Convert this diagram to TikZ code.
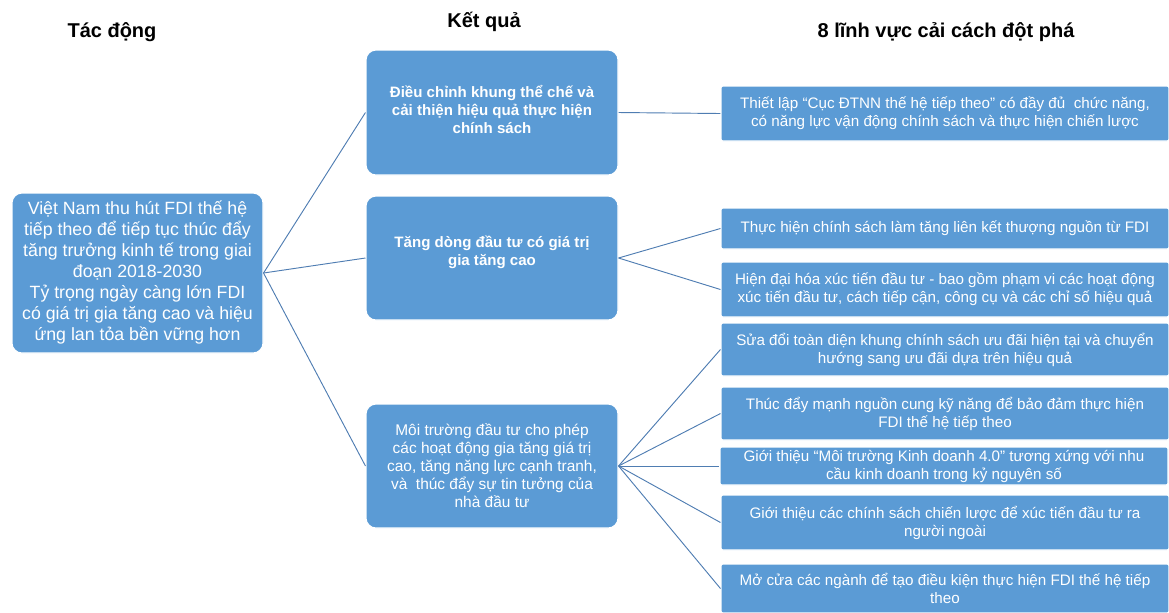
\documentclass[tikz,border=0pt]{standalone}
\usepackage{fontspec}
\setmainfont{Liberation Sans}
\definecolor{boxblue}{HTML}{5B9BD5}
\definecolor{linkblue}{HTML}{4F7DB2}
\begin{document}
\begin{tikzpicture}[x=0.75pt,y=-0.75pt,
  box/.style={draw=white, line width=0.8pt, fill=boxblue, text=white,
    align=center, inner sep=0pt},
  srcbox/.style={box, rounded corners=7.5pt, minimum width=188.25pt,
    minimum height=120pt, font=\fontsize{13.3pt}{15.75pt}\selectfont},
  midbox/.style={box, rounded corners=7.5pt, minimum width=189pt,
    font=\fontsize{11.6pt}{13.5pt}\selectfont},
  midbold/.style={midbox, font=\fontsize{11.3pt}{13.5pt}\selectfont\bfseries},
  areabox/.style={box, rounded corners=1.5pt, minimum width=336pt,
    font=\fontsize{11.4pt}{13.5pt}\selectfont},
  heading/.style={font=\fontsize{15pt}{17pt}\selectfont\bfseries, inner sep=0pt},
  link/.style={draw=linkblue, line width=0.7pt}]

\useasboundingbox (0,0) rectangle (1169,612);

% column headings
\node[heading] (h1) at (112,32) {Tác động};
\node[heading] (h2) at (484,22) {Kết quả};
\node[heading] (h3) at (946,32) {8 lĩnh vực cải cách đột phá};

% impact
\node[srcbox] (src) at (137.5,273) {Việt Nam thu hút FDI thế hệ\\
  tiếp theo để tiếp tục thúc đẩy\\ tăng trưởng kinh tế trong giai\\
  đoạn 2018-2030\\ Tỷ trọng ngày càng lớn FDI\\
  có giá trị gia tăng cao và hiệu\\ ứng lan tỏa bền vững hơn};

% results
\node[midbold, minimum height=93.75pt, text depth=5pt]
  (m1) at (492,112.5) {Điều chỉnh khung thể chế và\\ cải thiện hiệu quả thực hiện\\ chính sách};
\node[midbold, minimum height=93pt, text depth=10.5pt]
  (m2) at (492,258) {Tăng dòng đầu tư có giá trị\\ gia tăng cao};
\node[midbox, minimum height=93pt] (m3) at (492,466)
  {Môi trường đầu tư cho phép\\ các hoạt động gia tăng giá trị\\
   cao, tăng năng lực cạnh tranh,\\ và~ thúc đẩy sự tin tưởng của\\ nhà đầu tư};

% reform areas
\node[areabox, minimum height=41.25pt] (r1) at (945,113.5)
  {Thiết lập “Cục ĐTNN thế hệ tiếp theo” có đầy đủ~ chức năng,\\
   có năng lực vận động chính sách và thực hiện chiến lược};
\node[areabox, minimum height=30.75pt] (r2) at (945,228.5)
  {Thực hiện chính sách làm tăng liên kết thượng nguồn từ FDI};
\node[areabox, minimum height=41.25pt] (r3) at (945,289.5)
  {Hiện đại hóa xúc tiến đầu tư - bao gồm phạm vi các hoạt động\\
   xúc tiến đầu tư, cách tiếp cận, công cụ và các chỉ số hiệu quả};
\node[areabox, minimum height=39.75pt] (r4) at (945,349.5)
  {Sửa đổi toàn diện khung chính sách ưu đãi hiện tại và chuyển\\
   hướng sang ưu đãi dựa trên hiệu quả};
\node[areabox, minimum height=39.75pt] (r5) at (945,413.5)
  {Thúc đẩy mạnh nguồn cung kỹ năng để bảo đảm thực hiện\\
   FDI thế hệ tiếp theo};
\node[areabox, minimum height=28.5pt] (r6) at (944,466)
  {Giới thiệu “Môi trường Kinh doanh 4.0” tương xứng với nhu\\
   cầu kinh doanh trong kỷ nguyên số};
\node[areabox, minimum height=41.25pt] (r7) at (945,522.5)
  {Giới thiệu các chính sách chiến lược để xúc tiến đầu tư ra\\
   người ngoài};
\node[areabox, minimum height=36.75pt] (r8) at (945,588.5)
  {Mở cửa các ngành để tạo điều kiện thực hiện FDI thế hệ tiếp\\ theo};

% connectors
\draw[link] (src.east) -- (m1.west);
\draw[link] (src.east) -- (m2.west);
\draw[link] (src.east) -- (m3.west);
\draw[link] (m1.east) -- (r1.west);
\draw[link] (m2.east) -- (r2.west);
\draw[link] (m2.east) -- (r3.west);
\foreach \r in {r4,r5,r6,r7,r8}
  \draw[link] (m3.east) -- (\r.west);
\end{tikzpicture}
\end{document}
